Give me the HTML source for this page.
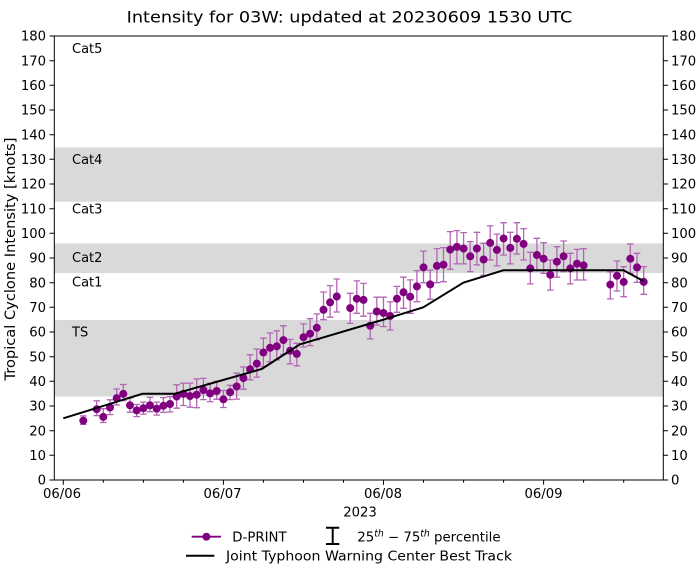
<!DOCTYPE html>
<html><head><meta charset="utf-8"><style>
html,body{margin:0;padding:0;background:#fff;}
svg{display:block;}
text{font-family:"DejaVu Sans","Liberation Sans",sans-serif;fill:#000;}
</style></head><body>
<svg width="699" height="571" viewBox="0 0 699 571" xmlns="http://www.w3.org/2000/svg">
<rect x="0" y="0" width="699" height="571" fill="#fff"/>
<!-- bands -->
<rect x="54.3" y="147.5" width="609" height="54.2" fill="#d9d9d9"/>
<rect x="54.3" y="243.5" width="609" height="29.5" fill="#d9d9d9"/>
<rect x="54.3" y="320" width="609" height="76.5" fill="#d9d9d9"/>
<!-- category labels -->
<g font-size="13">
<text x="72" y="52.8">Cat5</text>
<text x="72" y="164">Cat4</text>
<text x="72" y="213.5">Cat3</text>
<text x="72" y="262">Cat2</text>
<text x="72" y="286.5">Cat1</text>
<text x="72" y="336.3">TS</text>
</g>
<!-- error bars -->
<path fill="none" stroke="#b366b3" stroke-width="1.3" d="M83.3 415.9V424.3M80 415.9h6.6M80 424.3h6.6M96.7 400.8V415.6M93.4 400.8h6.6M93.4 415.6h6.6M103.3 408.7V422.5M100 408.7h6.6M100 422.5h6.6M110 399.8V414.6M106.7 399.8h6.6M106.7 414.6h6.6M116.7 389V405M113.4 389h6.6M113.4 405h6.6M123.3 384.5V400.6M120 384.5h6.6M120 400.6h6.6M130 397.9V412.2M126.7 397.9h6.6M126.7 412.2h6.6M136.7 404.5V416.6M133.4 404.5h6.6M133.4 416.6h6.6M143.4 402.1V414.1M140.1 402.1h6.6M140.1 414.1h6.6M150 397.4V411.7M146.7 397.4h6.6M146.7 411.7h6.6M156.7 402.1V415.1M153.4 402.1h6.6M153.4 415.1h6.6M163.4 397.6V412.4M160.1 397.6h6.6M160.1 412.4h6.6M170 396.6V411.9M166.7 396.6h6.6M166.7 411.9h6.6M176.7 384.8V408.2M173.4 384.8h6.6M173.4 408.2h6.6M183.4 383.3V405.5M180.1 383.3h6.6M180.1 405.5h6.6M190 383.1V407.2M186.7 383.1h6.6M186.7 407.2h6.6M196.7 378.9V407.7M193.4 378.9h6.6M193.4 407.7h6.6M203.4 378.4V399.6M200.1 378.4h6.6M200.1 399.6h6.6M210.1 383.3V401.6M206.8 383.3h6.6M206.8 401.6h6.6M216.7 381.3V399.3M213.4 381.3h6.6M213.4 399.3h6.6M223.4 390.5V407.5M220.1 390.5h6.6M220.1 407.5h6.6M230.1 385.3V399.6M226.8 385.3h6.6M226.8 399.6h6.6M236.7 373.2V399.1M233.4 373.2h6.6M233.4 399.1h6.6M243.4 367V389.2M240.1 367h6.6M240.1 389.2h6.6M250.1 354.7V379.9M246.8 354.7h6.6M246.8 379.9h6.6M256.8 349V377.1M253.5 349h6.6M253.5 377.1h6.6M263.4 338.2V366.5M260.1 338.2h6.6M260.1 366.5h6.6M270.1 333V361.8M266.8 333h6.6M266.8 361.8h6.6M276.8 330.8V359.9M273.5 330.8h6.6M273.5 359.9h6.6M283.4 325.8V354.4M280.1 325.8h6.6M280.1 354.4h6.6M290.1 339.4V363.8M286.8 339.4h6.6M286.8 363.8h6.6M296.8 343.3V365.8M293.5 343.3h6.6M293.5 365.8h6.6M303.5 323.9V347M300.2 323.9h6.6M300.2 347h6.6M310.1 318.7V345.6M306.8 318.7h6.6M306.8 345.6h6.6M316.8 314V339.9M313.5 314h6.6M313.5 339.9h6.6M323.5 292V319.7M320.2 292h6.6M320.2 319.7h6.6M330.1 285.6V317.2M326.8 285.6h6.6M326.8 317.2h6.6M336.8 279V312M333.5 279h6.6M333.5 312h6.6M350.2 293.3V323.4M346.9 293.3h6.6M346.9 323.4h6.6M356.8 280.9V313.3M353.5 280.9h6.6M353.5 313.3h6.6M363.5 283.4V316.2M360.2 283.4h6.6M360.2 316.2h6.6M370.2 313.3V338.9M366.9 313.3h6.6M366.9 338.9h6.6M376.8 297.2V325.1M373.5 297.2h6.6M373.5 325.1h6.6M383.5 297.2V326.6M380.2 297.2h6.6M380.2 326.6h6.6M390.2 301.9V330M386.9 301.9h6.6M386.9 330h6.6M396.9 286.4V312.3M393.6 286.4h6.6M393.6 312.3h6.6M403.5 277.2V308.3M400.2 277.2h6.6M400.2 308.3h6.6M410.2 279.9V313.3M406.9 279.9h6.6M406.9 313.3h6.6M416.9 270.6V301.7M413.6 270.6h6.6M413.6 301.7h6.6M423.5 251.1V282.7M420.2 251.1h6.6M420.2 282.7h6.6M430.2 270.1V299.2M426.9 270.1h6.6M426.9 299.2h6.6M436.9 248.6V282.7M433.6 248.6h6.6M433.6 282.7h6.6M443.5 247.6V281.7M440.2 247.6h6.6M440.2 281.7h6.6M450.2 231.6V269.3M446.9 231.6h6.6M446.9 269.3h6.6M456.9 230.6V263.9M453.6 230.6h6.6M453.6 263.9h6.6M463.6 232.6V263.9M460.3 232.6h6.6M460.3 263.9h6.6M470.2 241.7V271.6M466.9 241.7h6.6M466.9 271.6h6.6M476.9 232.3V264.9M473.6 232.3h6.6M473.6 264.9h6.6M483.6 243.2V275.3M480.3 243.2h6.6M480.3 275.3h6.6M490.2 225.9V260M486.9 225.9h6.6M486.9 260h6.6M496.9 234.1V265.9M493.6 234.1h6.6M493.6 265.9h6.6M503.6 222.7V255M500.3 222.7h6.6M500.3 255h6.6M510.3 232.3V263.9M507 232.3h6.6M507 263.9h6.6M516.9 222.7V254M513.6 222.7h6.6M513.6 254h6.6M523.6 228.6V260M520.3 228.6h6.6M520.3 260h6.6M530.3 252.3V283.9M527 252.3h6.6M527 283.9h6.6M536.9 238.3V270.6M533.6 238.3h6.6M533.6 270.6h6.6M543.6 242.7V273.3M540.3 242.7h6.6M540.3 273.3h6.6M550.3 260V290.1M547 260h6.6M547 290.1h6.6M556.9 246.7V277.2M553.6 246.7h6.6M553.6 277.2h6.6M563.6 241V271.6M560.3 241h6.6M560.3 271.6h6.6M570.3 253.3V283.9M567 253.3h6.6M567 283.9h6.6M577 249.4V280M573.7 249.4h6.6M573.7 280h6.6M583.6 248.6V280M580.3 248.6h6.6M580.3 280h6.6M610.3 271.8V298.9M607 271.8h6.6M607 298.9h6.6M617 261V291M613.7 261h6.6M613.7 291h6.6M623.7 266.6V296.7M620.4 266.6h6.6M620.4 296.7h6.6M630.3 243.9V273.3M627 243.9h6.6M627 273.3h6.6M637 253.3V282.4M633.7 253.3h6.6M633.7 282.4h6.6M643.7 266.6V294.3M640.4 266.6h6.6M640.4 294.3h6.6"/>
<!-- markers -->
<g fill="#800080">
<circle cx="83.3" cy="420.6" r="4"/><circle cx="96.7" cy="409.2" r="4"/><circle cx="103.3" cy="416.9" r="4"/><circle cx="110" cy="407.5" r="4"/><circle cx="116.7" cy="398.1" r="4"/><circle cx="123.3" cy="393.9" r="4"/><circle cx="130" cy="405.3" r="4"/><circle cx="136.7" cy="410.4" r="4"/><circle cx="143.4" cy="408.2" r="4"/><circle cx="150" cy="405.3" r="4"/><circle cx="156.7" cy="408.7" r="4"/><circle cx="163.4" cy="405.8" r="4"/><circle cx="170" cy="404" r="4"/><circle cx="176.7" cy="396.6" r="4"/><circle cx="183.4" cy="393.9" r="4"/><circle cx="190" cy="396.1" r="4"/><circle cx="196.7" cy="394.7" r="4"/><circle cx="203.4" cy="390" r="4"/><circle cx="210.1" cy="393.4" r="4"/><circle cx="216.7" cy="391" r="4"/><circle cx="223.4" cy="399.3" r="4"/><circle cx="230.1" cy="392.2" r="4"/><circle cx="236.7" cy="386.5" r="4"/><circle cx="243.4" cy="378.1" r="4"/><circle cx="250.1" cy="369.2" r="4"/><circle cx="256.8" cy="363.6" r="4"/><circle cx="263.4" cy="352.5" r="4"/><circle cx="270.1" cy="347.8" r="4"/><circle cx="276.8" cy="346.3" r="4"/><circle cx="283.4" cy="340.1" r="4"/><circle cx="290.1" cy="350.7" r="4"/><circle cx="296.8" cy="353.9" r="4"/><circle cx="303.5" cy="337.2" r="4"/><circle cx="310.1" cy="333.7" r="4"/><circle cx="316.8" cy="327.8" r="4"/><circle cx="323.5" cy="309.8" r="4"/><circle cx="330.1" cy="302.4" r="4"/><circle cx="336.8" cy="296.5" r="4"/><circle cx="350.2" cy="308.1" r="4"/><circle cx="356.8" cy="298.7" r="4"/><circle cx="363.5" cy="299.9" r="4"/><circle cx="370.2" cy="325.8" r="4"/><circle cx="376.8" cy="311.5" r="4"/><circle cx="383.5" cy="313" r="4"/><circle cx="390.2" cy="316" r="4"/><circle cx="396.9" cy="298.7" r="4"/><circle cx="403.5" cy="292.3" r="4"/><circle cx="410.2" cy="296.7" r="4"/><circle cx="416.9" cy="286.4" r="4"/><circle cx="423.5" cy="267.4" r="4"/><circle cx="430.2" cy="284.4" r="4"/><circle cx="436.9" cy="265.9" r="4"/><circle cx="443.5" cy="264.7" r="4"/><circle cx="450.2" cy="249.6" r="4"/><circle cx="456.9" cy="246.9" r="4"/><circle cx="463.6" cy="248.6" r="4"/><circle cx="470.2" cy="256.3" r="4"/><circle cx="476.9" cy="248.6" r="4"/><circle cx="483.6" cy="259.5" r="4"/><circle cx="490.2" cy="242.9" r="4"/><circle cx="496.9" cy="249.9" r="4"/><circle cx="503.6" cy="238.5" r="4"/><circle cx="510.3" cy="247.9" r="4"/><circle cx="516.9" cy="238.8" r="4"/><circle cx="523.6" cy="243.9" r="4"/><circle cx="530.3" cy="268.4" r="4"/><circle cx="536.9" cy="255" r="4"/><circle cx="543.6" cy="258.7" r="4"/><circle cx="550.3" cy="274.8" r="4"/><circle cx="556.9" cy="261.7" r="4"/><circle cx="563.6" cy="256.3" r="4"/><circle cx="570.3" cy="268.4" r="4"/><circle cx="577" cy="263.7" r="4"/><circle cx="583.6" cy="265.4" r="4"/><circle cx="610.3" cy="284.6" r="4"/><circle cx="617" cy="275.8" r="4"/><circle cx="623.7" cy="281.9" r="4"/><circle cx="630.3" cy="258.7" r="4"/><circle cx="637" cy="267.4" r="4"/><circle cx="643.7" cy="281.9" r="4"/>
</g>
<!-- best track -->
<polyline fill="none" stroke="#000" stroke-width="2" stroke-linejoin="round" points="63.3,418.3 142.7,393.7 175,393.7 261.7,369 300,344.3 383.3,319.7 423.3,307.3 463.3,282.7 503.3,270.3 623.5,270.3 643.5,281"/>
<!-- frame -->
<rect x="54.3" y="36" width="609" height="444" fill="none" stroke="#000" stroke-width="1"/>
<!-- y ticks -->
<path stroke="#000" stroke-width="1" d="M49.5 480h4.8M49.5 455.3h4.8M49.5 430.7h4.8M49.5 406h4.8M49.5 381.3h4.8M49.5 356.7h4.8M49.5 332h4.8M49.5 307.3h4.8M49.5 282.7h4.8M49.5 258h4.8M49.5 233.3h4.8M49.5 208.7h4.8M49.5 184h4.8M49.5 159.3h4.8M49.5 134.7h4.8M49.5 110h4.8M49.5 85.3h4.8M49.5 60.7h4.8M49.5 36h4.8M663.3 480h4.8M663.3 455.3h4.8M663.3 430.7h4.8M663.3 406h4.8M663.3 381.3h4.8M663.3 356.7h4.8M663.3 332h4.8M663.3 307.3h4.8M663.3 282.7h4.8M663.3 258h4.8M663.3 233.3h4.8M663.3 208.7h4.8M663.3 184h4.8M663.3 159.3h4.8M663.3 134.7h4.8M663.3 110h4.8M663.3 85.3h4.8M663.3 60.7h4.8M663.3 36h4.8"/>
<!-- x ticks -->
<path stroke="#000" stroke-width="1" d="M63.3 480v4.8M223.4 480v4.8M383.5 480v4.8M543.6 480v4.8M103.3 480v2.8M143.4 480v2.8M183.4 480v2.8M263.4 480v2.8M303.5 480v2.8M343.5 480v2.8M423.5 480v2.8M463.6 480v2.8M503.6 480v2.8M583.6 480v2.8M623.7 480v2.8"/>
<g font-size="13.2" text-anchor="end">
<text x="46" y="484.7">0</text><text x="46" y="460">10</text><text x="46" y="435.4">20</text><text x="46" y="410.7">30</text><text x="46" y="386">40</text><text x="46" y="361.4">50</text><text x="46" y="336.7">60</text><text x="46" y="312">70</text><text x="46" y="287.4">80</text><text x="46" y="262.7">90</text><text x="46" y="238">100</text><text x="46" y="213.4">110</text><text x="46" y="188.7">120</text><text x="46" y="164">130</text><text x="46" y="139.4">140</text><text x="46" y="114.7">150</text><text x="46" y="90">160</text><text x="46" y="65.4">170</text><text x="46" y="40.7">180</text>
</g>
<g font-size="13.2">
<text x="671" y="484.7">0</text><text x="671" y="460">10</text><text x="671" y="435.4">20</text><text x="671" y="410.7">30</text><text x="671" y="386">40</text><text x="671" y="361.4">50</text><text x="671" y="336.7">60</text><text x="671" y="312">70</text><text x="671" y="287.4">80</text><text x="671" y="262.7">90</text><text x="671" y="238">100</text><text x="671" y="213.4">110</text><text x="671" y="188.7">120</text><text x="671" y="164">130</text><text x="671" y="139.4">140</text><text x="671" y="114.7">150</text><text x="671" y="90">160</text><text x="671" y="65.4">170</text><text x="671" y="40.7">180</text>
</g>
<g font-size="13.2" text-anchor="middle">
<text x="62" y="498">06/06</text><text x="222.5" y="498">06/07</text><text x="383" y="498">06/08</text><text x="543.5" y="498">06/09</text>
<text x="360" y="516.3">2023</text>
</g>
<!-- y label -->
<text font-size="14.4" text-anchor="middle" textLength="243" lengthAdjust="spacingAndGlyphs" transform="translate(15,259) rotate(-90)">Tropical Cyclone Intensity [knots]</text>
<!-- title -->
<text x="126.7" y="22.5" font-size="16.3" textLength="445.6" lengthAdjust="spacingAndGlyphs">Intensity for 03W: updated at 20230609 1530 UTC</text>
<!-- legend -->
<line x1="191.7" y1="536.7" x2="221" y2="536.7" stroke="#800080" stroke-width="1.8"/>
<circle cx="206.4" cy="536.7" r="4" fill="#800080"/>
<text x="232.3" y="541.4" font-size="13.3">D-PRINT</text>
<path stroke="#000" stroke-width="2" fill="none" d="M332.7 527.7V544M326 527.7h13.3M326 544h13.3"/>
<text x="357.3" y="541.4" font-size="13.3">25<tspan font-size="9.3" font-style="italic" dy="-5">th</tspan><tspan dy="5"> − 75</tspan><tspan font-size="9.3" font-style="italic" dy="-5">th</tspan><tspan dy="5"> percentile</tspan></text>
<line x1="186" y1="555.7" x2="214.3" y2="555.7" stroke="#000" stroke-width="2"/>
<text x="226" y="560.4" font-size="13.3" textLength="286" lengthAdjust="spacingAndGlyphs">Joint Typhoon Warning Center Best Track</text>
</svg>
</body></html>
